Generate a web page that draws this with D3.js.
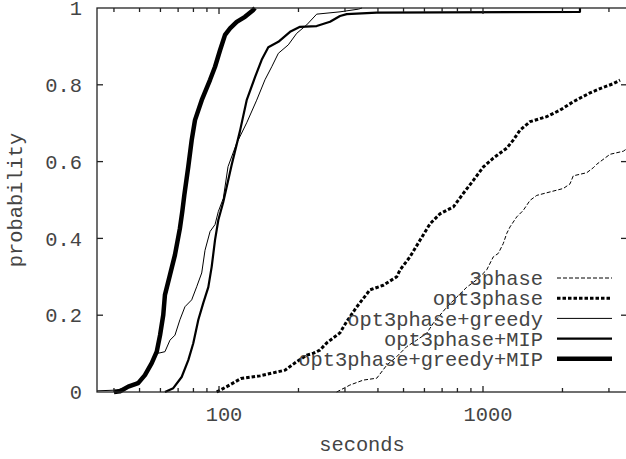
<!DOCTYPE html>
<html>
<head>
<meta charset="utf-8">
<script src="https://cdn.jsdelivr.net/npm/d3@7"></script>
<style>
  body { margin: 0; background: #fff; }
  text { font-family: 'Liberation Mono', 'DejaVu Sans Mono', monospace; font-size: 20.4px; fill: #444; }
</style>
</head>
<body>
<div id="chart"></div>
<script>
// [seconds, probability]
const threePhase = [
  [279, 0], [313, 0.018], [352, 0.031], [396, 0.036], [432, 0.070], [471, 0.092],
  [514, 0.118], [561, 0.135], [612, 0.153], [648, 0.179], [687, 0.200], [729, 0.221],
  [795, 0.247], [868, 0.273], [946, 0.292], [1033, 0.318], [1094, 0.352], [1143, 0.361],
  [1194, 0.387], [1230, 0.413], [1266, 0.430], [1342, 0.456], [1421, 0.473], [1507, 0.499],
  [1598, 0.512], [1794, 0.521], [2015, 0.530], [2136, 0.542], [2198, 0.563], [2471, 0.571],
  [2617, 0.584], [2696, 0.593], [3027, 0.619], [3399, 0.627], [3481, 0.632]
];
const opt3phase = [
  [98, 0], [107, 0.014], [121, 0.035], [143, 0.042], [178, 0.057], [197, 0.079],
  [215, 0.096], [228, 0.101], [241, 0.109], [256, 0.128], [287, 0.154], [305, 0.184],
  [332, 0.221], [373, 0.266], [419, 0.278], [471, 0.300], [485, 0.318], [529, 0.352],
  [577, 0.395], [630, 0.438], [687, 0.464], [772, 0.482], [842, 0.517], [919, 0.551],
  [1003, 0.586], [1094, 0.609], [1230, 0.635], [1302, 0.656], [1381, 0.682], [1507, 0.704],
  [1743, 0.717], [1958, 0.734], [2198, 0.756], [2543, 0.779], [2775, 0.790], [3116, 0.803],
  [3304, 0.812]
];
const greedy = [
  [34.5, 0.003], [41, 0.005], [46, 0.015], [50.2, 0.031], [54.8, 0.068], [57.3, 0.100],
  [59.8, 0.102], [62.4, 0.105], [65.2, 0.135], [68.1, 0.148], [71.1, 0.188], [74.3, 0.222],
  [78.8, 0.240], [82.3, 0.274], [86, 0.310], [88.5, 0.369], [92.5, 0.418], [96.6, 0.436],
  [99.4, 0.470], [103.8, 0.504], [108.2, 0.587], [116.7, 0.648], [127.3, 0.701], [138.9, 0.760],
  [149.3, 0.813], [158.4, 0.847], [167.8, 0.882], [183, 0.904], [196.9, 0.934], [214.8, 0.956],
  [234.4, 0.984], [287.3, 0.990], [337.2, 0.997], [348.2, 1]
];
const mip = [
  [62.4, 0], [67.1, 0.010], [72.2, 0.039], [76.5, 0.083], [79.9, 0.127], [83.5, 0.188],
  [87.2, 0.232], [91.1, 0.273], [93.8, 0.326], [96.6, 0.396], [99.4, 0.448], [103.8, 0.495],
  [111.7, 0.592], [120.1, 0.680], [127.3, 0.760], [136.9, 0.820], [145.1, 0.865], [153.7, 0.898],
  [167.8, 0.912], [185.8, 0.938], [202.7, 0.951], [234.4, 0.953], [263.4, 0.964], [287.3, 0.979],
  [304.6, 0.984], [395.7, 0.988], [2330, 0.990], [2330, 1]
];
const greedyMip = [
  [40, 0], [42.2, 0.002], [45.3, 0.014], [49.4, 0.023], [52.4, 0.044], [55.6, 0.075],
  [58.1, 0.105], [59.8, 0.148], [61.5, 0.201], [62.4, 0.253], [65.2, 0.305], [68.1, 0.357],
  [71.1, 0.426], [72.6, 0.470], [73.9, 0.513], [76.5, 0.587], [78.8, 0.656], [81.1, 0.708],
  [86, 0.760], [92.5, 0.813], [96.6, 0.847], [100.9, 0.890], [105.4, 0.930], [110.1, 0.947],
  [116.7, 0.964], [125.4, 0.977], [134.9, 0.995], [136.8, 1]
];

const seriesNames = ['3phase', 'opt3phase', 'opt3phase+greedy', 'opt3phase+MIP', 'opt3phase+greedy+MIP'];
const seriesData = [threePhase, opt3phase, greedy, mip, greedyMip];
const yTickValues = [0, 0.2, 0.4, 0.6, 0.8, 1];
const yTickLabels = ['0', '0.2', '0.4', '0.6', '0.8', '1'];
const xMajorTicks = [100, 1000];
const xMinorTicks = [40, 50, 60, 70, 80, 90, 200, 300, 400, 500, 600, 700, 800, 900, 2000, 3000];

const styles = [
  { width: 1, dash: '4,2' },
  { width: 3, dash: '3.5,2' },
  { width: 1, dash: null },
  { width: 2.2, dash: null },
  { width: 4.5, dash: null }
];

const width = 626, height = 459;
const plot = { left: 97, right: 626, top: 8, bottom: 392 };

const svg = d3.select('#chart').append('svg')
  .attr('width', width)
  .attr('height', height);

const x = d3.scaleLog()
  .domain([34.5, 3481])
  .range([plot.left, plot.right]);

const y = d3.scaleLinear()
  .domain([0, 1])
  .range([plot.bottom, plot.top]);

svg.append('clipPath').attr('id', 'clip')
  .append('rect')
  .attr('x', plot.left).attr('y', plot.top - 3)
  .attr('width', plot.right - plot.left).attr('height', plot.bottom - plot.top + 6);

// Curves
const line = d3.line()
  .x(d => x(d[0]))
  .y(d => y(d[1]));

const curves = svg.append('g').attr('clip-path', 'url(#clip)');
seriesData.forEach((data, i) => {
  curves.append('path')
    .datum(data)
    .attr('d', line)
    .attr('fill', 'none')
    .attr('stroke', '#000')
    .attr('stroke-width', styles[i].width)
    .attr('stroke-dasharray', styles[i].dash)
    .attr('stroke-linejoin', 'round');
});

// Axes (gnuplot style: ticks inside, mirrored)
const axes = svg.append('g')
  .attr('stroke', '#222')
  .attr('stroke-width', 1.3);

axes.append('rect')
  .attr('x', plot.left).attr('y', plot.top)
  .attr('width', plot.right - plot.left + 2).attr('height', plot.bottom - plot.top)
  .attr('fill', 'none');

yTickValues.slice(1, -1).forEach(v => {
  axes.append('line').attr('x1', plot.left).attr('x2', plot.left + 6).attr('y1', y(v)).attr('y2', y(v));
  axes.append('line').attr('x1', plot.right - 5).attr('x2', plot.right).attr('y1', y(v)).attr('y2', y(v));
});

xMajorTicks.forEach(v => {
  axes.append('line').attr('x1', x(v)).attr('x2', x(v)).attr('y1', plot.bottom).attr('y2', plot.bottom - 6);
  axes.append('line').attr('x1', x(v)).attr('x2', x(v)).attr('y1', plot.top).attr('y2', plot.top + 6);
});
xMinorTicks.forEach(v => {
  axes.append('line').attr('x1', x(v)).attr('x2', x(v)).attr('y1', plot.bottom).attr('y2', plot.bottom - 4);
  axes.append('line').attr('x1', x(v)).attr('x2', x(v)).attr('y1', plot.top).attr('y2', plot.top + 4);
});

// Tick labels
svg.append('g').selectAll('text')
  .data(yTickValues)
  .join('text')
  .attr('x', plot.left - 15)
  .attr('y', d => y(d))
  .attr('dy', '0.35em')
  .attr('text-anchor', 'end')
  .text((d, i) => yTickLabels[i]);

svg.append('g').selectAll('text')
  .data(xMajorTicks)
  .join('text')
  .attr('x', d => x(d) + 5)
  .attr('y', 414)
  .attr('dy', '0.35em')
  .attr('text-anchor', 'middle')
  .text(d => d);

// Axis titles
svg.append('text')
  .attr('x', 362).attr('y', 444)
  .attr('dy', '0.35em')
  .attr('text-anchor', 'middle')
  .text('seconds');

svg.append('text')
  .attr('transform', 'translate(15,200)rotate(-90)')
  .attr('dy', '0.35em')
  .attr('text-anchor', 'middle')
  .text('probability');

// Legend
const legend = svg.append('g');
seriesNames.forEach((name, i) => {
  const ly = 278 + i * 20.2;
  legend.append('text')
    .attr('x', 543).attr('y', ly)
    .attr('dy', '0.35em')
    .attr('text-anchor', 'end')
    .text(name);
  legend.append('line')
    .attr('x1', 557).attr('x2', 612)
    .attr('y1', ly).attr('y2', ly)
    .attr('stroke', '#000')
    .attr('stroke-width', styles[i].width)
    .attr('stroke-dasharray', styles[i].dash);
});
</script>
</body>
</html>
